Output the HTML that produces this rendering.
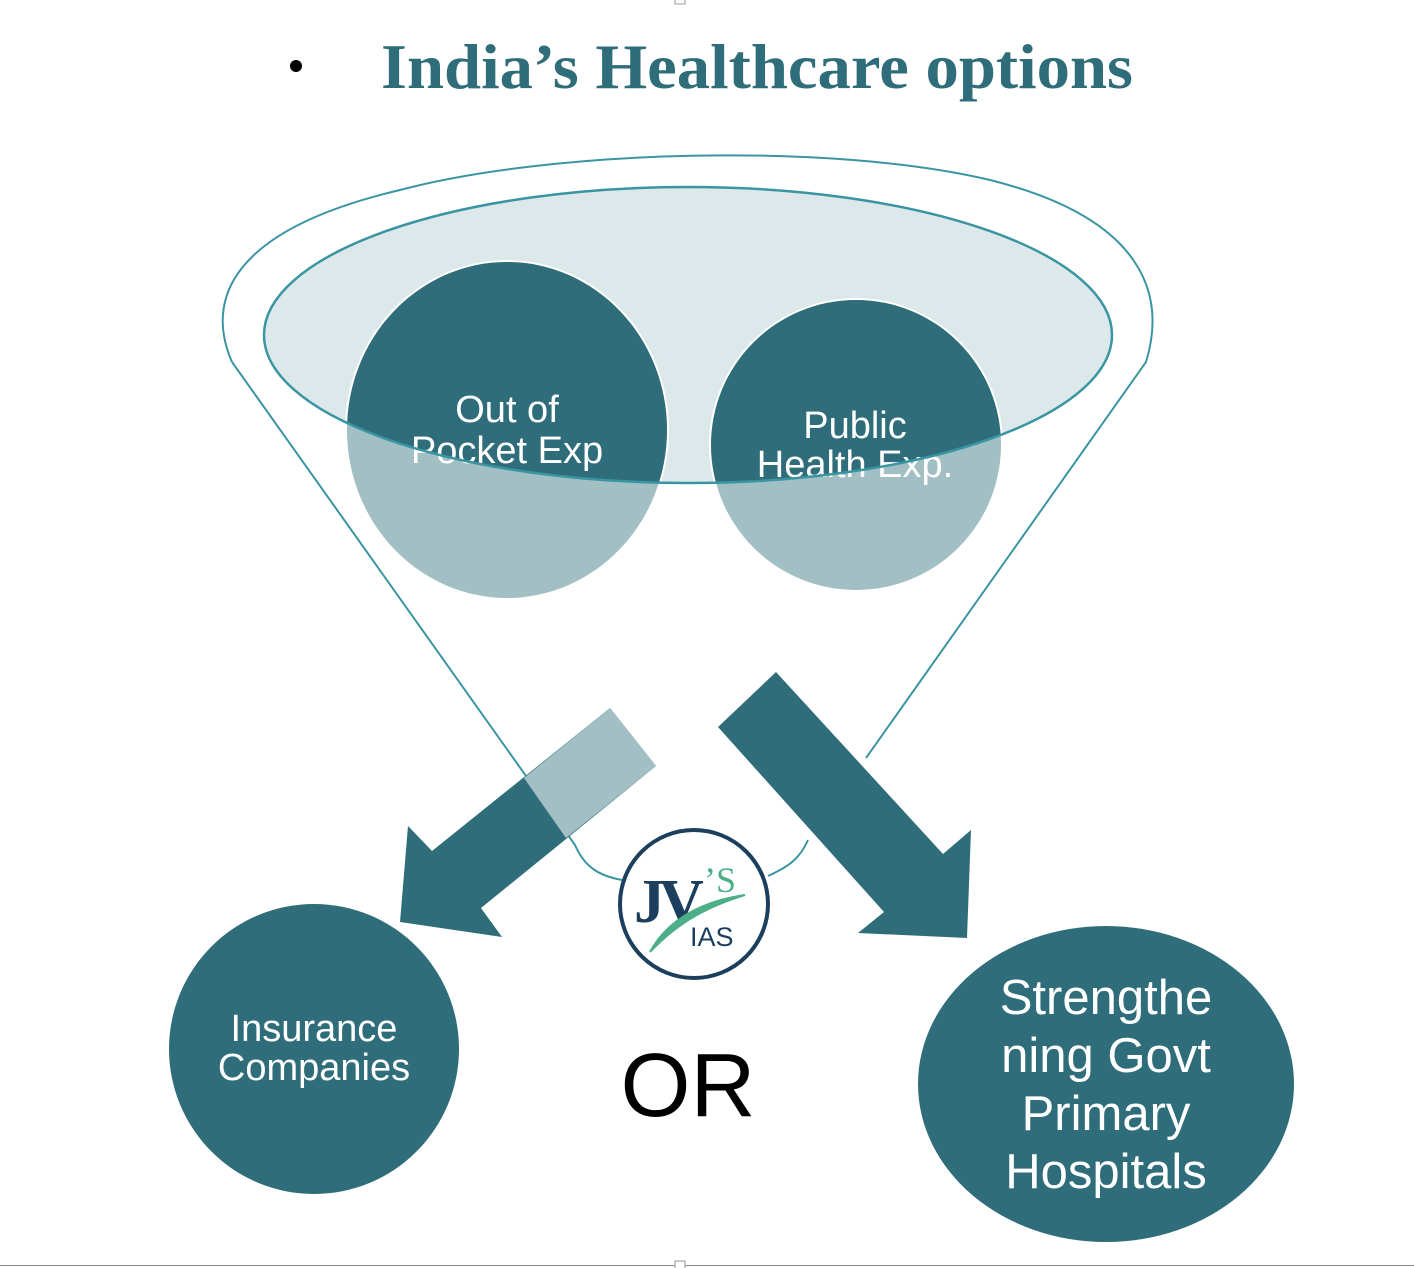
<!DOCTYPE html>
<html><head><meta charset="utf-8"><style>
html,body{margin:0;padding:0;background:#fff;}
svg{display:block;}
</style></head><body>
<svg width="1414" height="1268" viewBox="0 0 1414 1268" xmlns="http://www.w3.org/2000/svg">
<defs>
<clipPath id="inner"><ellipse cx="688" cy="335" rx="424" ry="148"/></clipPath>
</defs>
<!-- title -->
<circle cx="296" cy="66" r="6" fill="#000"/>
<text x="381" y="88" font-family="Liberation Serif, serif" font-weight="bold" font-size="64" fill="#2e6d79" textLength="752" lengthAdjust="spacingAndGlyphs">India’s Healthcare options</text>

<!-- funnel outline -->
<path d="M232,362 C205,300 230,230 400,190 C550,150 830,142 990,180 C1150,220 1165,300 1146,362 L866,758" fill="none" stroke="#3a95a3" stroke-width="2"/>
<path d="M232,362 L575,845 C585,868 600,876 622,880" fill="none" stroke="#3a95a3" stroke-width="2"/>
<path d="M808,840 C800,858 790,866 768,876" fill="none" stroke="#3a95a3" stroke-width="2"/>

<!-- inner ellipse fill -->
<ellipse cx="688" cy="335" rx="424" ry="148" fill="#dce8ea"/>

<!-- circles light -->
<ellipse cx="507" cy="430" rx="162" ry="170" fill="#fff"/>
<ellipse cx="856" cy="445" rx="147" ry="147" fill="#fff"/>
<ellipse cx="507" cy="430" rx="160" ry="168" fill="#a2bfc4"/>
<ellipse cx="856" cy="445" rx="145" ry="145" fill="#a2bfc4"/>
<g clip-path="url(#inner)">
<ellipse cx="507" cy="430" rx="160" ry="168" fill="#2e6d79"/>
<ellipse cx="856" cy="445" rx="145" ry="145" fill="#2e6d79"/>
</g>
<g font-family="Liberation Sans, sans-serif" font-size="38" fill="#fff" text-anchor="middle">
<text x="507" y="422">Out of</text>
<text x="507" y="463">Pocket Exp</text>
<text x="855" y="438">Public</text>
<text x="855" y="477">Health Exp.</text>
</g>
<ellipse cx="688" cy="335" rx="424" ry="148" fill="none" stroke="#3a95a3" stroke-width="2.5"/>

<!-- left arrow -->
<polygon points="610,708 656,766 481,908 502,937 400,922 408,826 432,851" fill="#2e6d79"/>
<polygon points="610,708 656,766 566,838 524,778" fill="#a2bfc4"/>
<!-- right arrow -->
<polygon points="776,672 943,854 971,830 967,938 858,933 884,912 718,727" fill="#2e6d79"/>

<!-- logo -->
<circle cx="694" cy="904" r="74" fill="#fff" stroke="#1b3f5c" stroke-width="4"/>
<text x="634" y="922" font-family="Liberation Serif, serif" font-weight="bold" font-size="62" fill="#1b3f5c" letter-spacing="-6">JV</text>
<text x="704" y="892" font-family="Liberation Serif, serif" font-size="36" fill="#4caf88">’S</text>
<path d="M650,952 C670,915 710,900 745,895 C712,905 680,920 650,952Z" fill="#4caf88" stroke="#4caf88" stroke-width="2"/>
<text x="690" y="946" font-family="Liberation Sans, sans-serif" font-size="27" fill="#1b3f5c">IAS</text>

<!-- bottom circles -->
<ellipse cx="314" cy="1049" rx="145" ry="145" fill="#2e6d79"/>
<ellipse cx="1106" cy="1084" rx="188" ry="158" fill="#2e6d79"/>
<g font-family="Liberation Sans, sans-serif" fill="#fff" text-anchor="middle">
<text x="314" y="1041" font-size="38">Insurance</text>
<text x="314" y="1080" font-size="38">Companies</text>
<text x="1106" y="1014" font-size="49">Strengthe</text>
<text x="1106" y="1072" font-size="49">ning Govt</text>
<text x="1106" y="1130" font-size="49">Primary</text>
<text x="1106" y="1188" font-size="49">Hospitals</text>
</g>
<text x="688" y="1116" font-family="Liberation Sans, sans-serif" font-size="90" fill="#000" text-anchor="middle">OR</text>

<!-- page edges -->
<line x1="0" y1="1265.5" x2="1414" y2="1265.5" stroke="#888" stroke-width="1"/>
<rect x="675" y="-2" width="10" height="6" fill="#fff" stroke="#999"/>
<rect x="675" y="1261" width="10" height="8" fill="#fff" stroke="#999"/>
</svg>
</body></html>
